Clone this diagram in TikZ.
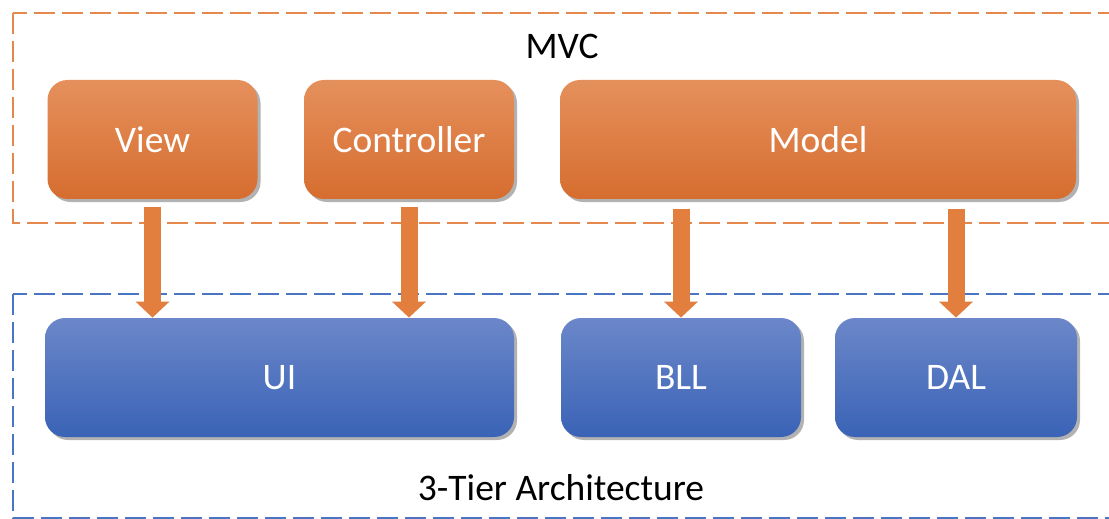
\documentclass[tikz,border=0pt]{standalone}
\usepackage{fontspec}
\setmainfont{Carlito}
\usetikzlibrary{arrows.meta,shadows}
\definecolor{orTop}{HTML}{E5905C}
\definecolor{orBot}{HTML}{D66D2F}
\definecolor{blTop}{HTML}{6B87C9}
\definecolor{blBot}{HTML}{3A63B6}
\definecolor{orLine}{HTML}{E4884E}
\definecolor{blLine}{HTML}{4A74C4}
\definecolor{arrCol}{HTML}{E27E3E}
\tikzset{
  box/.style={rounded corners=10pt, minimum height=59.5pt, text=white,
    font=\fontsize{18.75}{22}\selectfont, inner sep=0pt,
    drop shadow={shadow xshift=1.5pt, shadow yshift=-1.5pt, opacity=0.3, fill=black}},
  obox/.style={box, top color=orTop, bottom color=orBot},
  bbox/.style={box, top color=blTop, bottom color=blBot},
  frame/.style={line width=1pt, dash pattern=on 10.5pt off 3.5pt},
  bigarrow/.style={draw=arrCol, line width=8.5pt,
    -{Triangle[width=16.5pt,length=8pt]}},
  title/.style={font=\fontsize{18.75}{22}\selectfont, text=black}
}
\begin{document}
\begin{tikzpicture}[x=0.5pt,y=-0.5pt]
\clip (0,0) rectangle (1109,519);
\fill[white] (0,0) rectangle (1109,519);
\draw[frame, orLine] (13,13) rectangle (1140,223);
\draw[frame, blLine] (13,294) rectangle (1140,518);
\node[title] (mvc) at (562,46) {MVC};
\node[title] (tier) at (561,488) {3-Tier Architecture};
\node[obox, minimum width=105pt] (view) at (152.5,139.5) {View};
\node[obox, minimum width=105pt] (ctrl) at (409,139.5) {Controller};
\node[obox, minimum width=258pt] (model) at (818,139.5) {Model};
\node[bbox, minimum width=234.5pt] (ui) at (279.5,377.5) {UI};
\node[bbox, minimum width=120pt] (bll) at (681,377.5) {BLL};
\node[bbox, minimum width=121pt] (dal) at (956,377.5) {DAL};
\draw[bigarrow] ([yshift=-4pt]view.south) -- (view.south |- ui.north);
\draw[bigarrow] ([yshift=-4pt]ctrl.south) -- (ctrl.south |- ui.north);
\draw[bigarrow] ([yshift=-5pt]model.south -| bll.north) -- (bll.north);
\draw[bigarrow] ([yshift=-5pt]model.south -| dal.north) -- (dal.north);
\end{tikzpicture}
\end{document}
